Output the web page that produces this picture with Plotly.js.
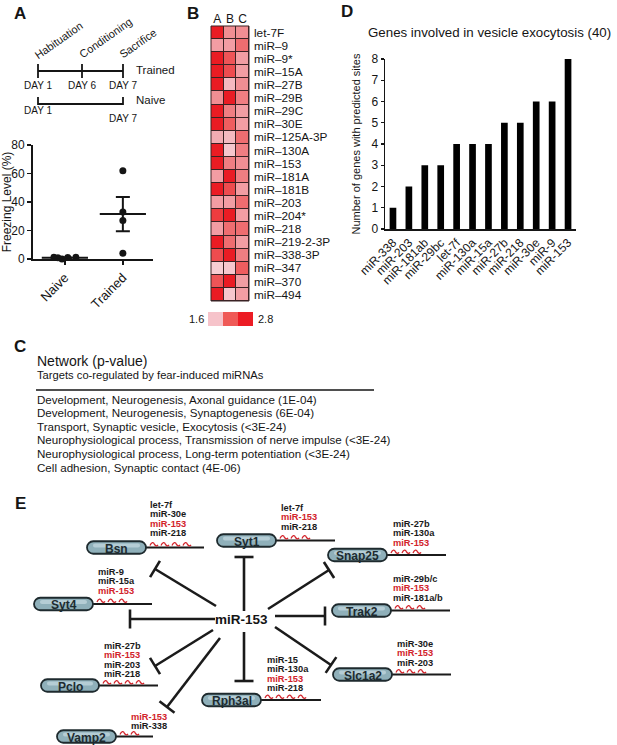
<!DOCTYPE html>
<html>
<head>
<meta charset="utf-8">
<script src="https://cdn.plot.ly/plotly-3.0.1.min.js"></script>
<style>html,body{margin:0;padding:0;background:#fff;}#chart{width:617px;height:745px;}</style>
</head>
<body>
<div id="chart"></div>
<script>
// ---------------- DATA ----------------
// Panel A: freezing level (%)
const groupNames = ['Naive', 'Trained'];
const naiveFreeze = [1.2, 0.8, 0.0, 1.0, 1.2];
const naiveJitter = [-0.19, -0.12, -0.05, 0.05, 0.19];
const trainedFreeze = [62, 33, 27, 4];
const trainedJitter = [0, 0, 0, 0];
const groupMean = [0.8, 31.5];
const groupSEM = [0.3, 12];

// Timeline
const timelineTrained = ['DAY 1', 'DAY 6', 'DAY 7'];
const timelineNaive = ['DAY 1', 'DAY 7'];
const timelinePhases = ['Habituation', 'Conditioning', 'Sacrifice'];

// Panel B: heatmap
const heatCols = ['A', 'B', 'C'];
const heatRows = ['let-7F', 'miR–9', 'miR–9*', 'miR–15A', 'miR–27B', 'miR–29B', 'miR–29C', 'miR–30E',
  'miR–125A-3P', 'miR–130A', 'miR–153', 'miR–181A', 'miR–181B', 'miR–203', 'miR–204*', 'miR–218',
  'miR–219-2-3P', 'miR–338-3P', 'miR–347', 'miR–370', 'miR–494'];
const heatA = [2.8, 2.0, 2.8, 2.8, 2.8, 2.1, 2.8, 2.8, 1.9, 2.8, 2.8, 2.0, 2.8, 2.0, 2.6, 2.0, 2.8, 2.5, 1.65, 2.45, 2.8];
const heatB = [2.1, 2.0, 2.45, 2.5, 1.8, 2.8, 2.2, 2.4, 1.8, 1.7, 2.2, 2.8, 2.5, 2.0, 2.8, 2.3, 2.3, 2.8, 1.7, 2.8, 1.7];
const heatC = [2.1, 2.3, 2.0, 2.0, 2.1, 2.2, 2.0, 2.0, 2.3, 2.2, 2.1, 2.2, 2.0, 2.3, 2.0, 2.3, 2.0, 2.2, 2.4, 2.0, 2.0];
const scaleMin = 1.6, scaleMax = 2.8;

// Panel C: network list
const netTitle = 'Network (p-value)';
const netSubtitle = 'Targets co-regulated by fear-induced miRNAs';
const netItems = [
  'Development, Neurogenesis, Axonal guidance (1E-04)',
  'Development, Neurogenesis, Synaptogenesis (6E-04)',
  'Transport, Synaptic vesicle, Exocytosis (<3E-24)',
  'Neurophysiological process, Transmission of nerve impulse (<3E-24)',
  'Neurophysiological process, Long-term potentiation (<3E-24)',
  'Cell adhesion, Synaptic contact (4E-06)'
];

// Panel D: bars
const dTitle = 'Genes involved in vesicle exocytosis (40)';
const dCats = ['miR-338', 'miR-203', 'miR-181ab', 'miR-29bc', 'let-7f', 'miR-130a', 'miR-15a', 'miR-27b', 'miR-218', 'miR-30e', 'miR-9', 'miR-153'];
const dCounts = [1, 2, 3, 3, 4, 4, 4, 5, 5, 6, 6, 8];

// Panel E: network
const hub = 'miR-153';
const geneNames = ['Bsn', 'Syt1', 'Snap25', 'Trak2', 'Slc1a2', 'Rph3al', 'Pclo', 'Syt4', 'Vamp2'];
const geneMirnas = [
  ['let-7f', 'miR-30e', 'miR-153', 'miR-218'],
  ['let-7f', 'miR-153', 'miR-218'],
  ['miR-27b', 'miR-130a', 'miR-153'],
  ['miR-29b/c', 'miR-153', 'miR-181a/b'],
  ['miR-30e', 'miR-153', 'miR-203'],
  ['miR-15', 'miR-130a', 'miR-153', 'miR-218'],
  ['miR-27b', 'miR-153', 'miR-203', 'miR-218'],
  ['miR-9', 'miR-15a', 'miR-153'],
  ['miR-153', 'miR-338']
];

// ---------------- LAYOUT GEOMETRY (pixels) ----------------
const W = 617, H = 745;
const nodeGeom = {
  Bsn:    {L: 87,  R: 146, cy: 547.5, end: 204, lx: 148, ly: 505, arrow: [216, 606, 155, 569]},
  Syt1:   {L: 217, R: 276, cy: 540.5, end: 335, lx: 279, ly: 508, arrow: [244, 611, 244, 557]},
  Snap25: {L: 328, R: 387, cy: 555,   end: 446, lx: 391, ly: 524, arrow: [268, 609, 329, 570]},
  Trak2:  {L: 332, R: 391, cy: 610.5, end: 450, lx: 391, ly: 579, arrow: [275, 616, 325, 616]},
  Slc1a2: {L: 333, R: 392, cy: 674.5, end: 451, lx: 395, ly: 644, arrow: [275, 627, 331, 665]},
  Rph3al: {L: 202, R: 261, cy: 700,   end: 321, lx: 265, ly: 660, arrow: [244, 632, 244, 681]},
  Pclo:   {L: 41,  R: 99,  cy: 685.5, end: 158, lx: 102, ly: 646, arrow: [213, 630, 155, 666]},
  Syt4:   {L: 34,  R: 93,  cy: 604,   end: 152, lx: 96,  ly: 572, arrow: [215, 619, 130, 619]},
  Vamp2:  {L: 57,  R: 116, cy: 736.5, end: 153, lx: 129, ly: 717, arrow: [220, 638, 167, 707]}
};

const FONT = 'Liberation Sans, Arial, Helvetica, sans-serif';
const INK = '#151515';
const RED = '#d2232a';
const px = (x) => x / W;
const py = (y) => 1 - y / H;

const shapes = [];
const annotations = [];
function ann(text, x, y, o) {
  annotations.push(Object.assign({
    text: text, x: x, y: y, xref: 'x4', yref: 'y4', showarrow: false,
    xanchor: 'left', yanchor: 'middle', font: {family: FONT, size: 12, color: INK}
  }, o || {}));
}
function line(x0, y0, x1, y1, w, c) {
  shapes.push({type: 'line', xref: 'x4', yref: 'y4', x0: x0, y0: y0, x1: x1, y1: y1,
    line: {color: c || INK, width: w || 2}, layer: 'above'});
}

// Panel letters
[['A', 20, 13], ['B', 193, 13], ['D', 347, 11], ['C', 20, 346], ['E', 20, 503]].forEach(p => {
  ann('<b>' + p[0] + '</b>', p[1], p[2], {xanchor: 'center', font: {family: FONT, size: 17, color: INK}});
});

// ---- Timeline (panel A) ----
const tlX = [38, 82, 123];
line(38, 71, 123, 71, 1.8);
tlX.forEach(x => line(x, 64, x, 78, 1.8));
line(38, 104, 123, 104, 1.8);
[38, 123].forEach(x => line(x, 97, x, 105, 1.8));
timelineTrained.forEach((t, i) => ann(t, tlX[i], 85, {xanchor: 'center', font: {family: FONT, size: 10, color: INK}}));
ann(timelineNaive[0], 38, 110, {xanchor: 'center', font: {family: FONT, size: 10, color: INK}});
ann(timelineNaive[1], 123, 118, {xanchor: 'center', font: {family: FONT, size: 10, color: INK}});
const phaseStart = [[30, 64], [74, 63], [115, 63]];
timelinePhases.forEach((t, i) => ann(t, phaseStart[i][0], phaseStart[i][1],
  {xanchor: 'left', yanchor: 'bottom', textangle: -35, font: {family: FONT, size: 11, color: INK}}));
ann('Trained', 134, 70, {font: {family: FONT, size: 11.5, color: INK}});
ann('Naive', 134, 100, {font: {family: FONT, size: 11.5, color: INK}});

// ---- Heatmap frame and legend (panel B) ----
shapes.push({type: 'rect', xref: 'x2 domain', yref: 'y2 domain', x0: 0, x1: 1, y0: 0, y1: 1,
  fillcolor: '#3a2224', line: {width: 0}, layer: 'below'});
shapes.push({type: 'rect', xref: 'x2 domain', yref: 'y2 domain', x0: 0, x1: 1, y0: 0, y1: 1,
  fillcolor: 'rgba(0,0,0,0)', line: {width: 1, color: '#3a2224'}, layer: 'above'});
const legendCols = ['#f6c3ca', '#ef5a57', '#ec1c24'];
legendCols.forEach((c, i) => {
  shapes.push({type: 'rect', xref: 'x4', yref: 'y4', x0: 208 + i * 15, x1: 223 + i * 15, y0: 312, y1: 326,
    fillcolor: c, line: {width: 0}, layer: 'above'});
});
ann(scaleMin.toFixed(1), 206, 319, {xanchor: 'right', font: {family: FONT, size: 11, color: INK}});
ann(scaleMax.toFixed(1), 256, 319, {font: {family: FONT, size: 11, color: INK}});

// ---- Panel C ----
ann(netTitle, 35, 361, {font: {family: FONT, size: 14, color: INK}});
ann(netSubtitle, 35, 374.5, {font: {family: FONT, size: 11.2, color: INK}});
line(36, 390, 374, 390, 1.5);
netItems.forEach((t, i) => ann(t, 35, 399 + i * 13.6, {font: {family: FONT, size: 11.6, color: INK}}));

// ---- Panel D title ----
ann(dTitle, 366, 32, {font: {family: FONT, size: 13.3, color: INK}});

// ---- Panel E: network ----
function pillPath(L, R, cy, h) {
  const r = h / 2, k = 0.5523 * r;
  return 'M' + (L + r) + ',' + (cy - r) + ' L' + (R - r) + ',' + (cy - r) +
    ' C' + (R - r + k) + ',' + (cy - r) + ' ' + R + ',' + (cy - k) + ' ' + R + ',' + cy +
    ' C' + R + ',' + (cy + k) + ' ' + (R - r + k) + ',' + (cy + r) + ' ' + (R - r) + ',' + (cy + r) +
    ' L' + (L + r) + ',' + (cy + r) +
    ' C' + (L + r - k) + ',' + (cy + r) + ' ' + L + ',' + (cy + k) + ' ' + L + ',' + cy +
    ' C' + L + ',' + (cy - k) + ' ' + (L + r - k) + ',' + (cy - r) + ' ' + (L + r) + ',' + (cy - r) + ' Z';
}
ann('<b>' + hub + '</b>', 241, 619, {xanchor: 'center', font: {family: FONT, size: 13.5, color: INK}});
geneNames.forEach((g, gi) => {
  const n = nodeGeom[g];
  const a = n.arrow;
  line(a[0], a[1], a[2], a[3], 2.6, '#1b1b1b');
  const dx = a[2] - a[0], dy = a[3] - a[1], len = Math.hypot(dx, dy);
  const nx = -dy / len * 9.5, ny = dx / len * 9.5;
  line(a[2] - nx, a[3] - ny, a[2] + nx, a[3] + ny, 2.6, '#1b1b1b');
  line(n.R, n.cy, n.end, n.cy, 2, '#1b1b1b');
  shapes.push({type: 'path', xref: 'x4', yref: 'y4', path: pillPath(n.L, n.R, n.cy, 12.5),
    fillcolor: '#8fb0ba', line: {color: '#1e2a2e', width: 1.8}, layer: 'above'});
  shapes.push({type: 'path', xref: 'x4', yref: 'y4', path: pillPath(n.L + 6, n.R - 6, n.cy - 2, 4),
    fillcolor: 'rgba(214,230,235,0.55)', line: {width: 0}, layer: 'above'});
  ann('<b>' + g + '</b>', (n.L + n.R) / 2, n.cy + 1, {xanchor: 'center', font: {family: FONT, size: 12, color: '#1d2b30'}});
  const mirs = geneMirnas[gi];
  mirs.forEach((m, mi) => {
    ann('<b>' + m + '</b>', n.lx, n.ly + mi * 9.4,
      {font: {family: FONT, size: 9.3, color: m === hub ? RED : '#1a1a1a'}});
    const x0 = n.R + 4 + mi * 11, y0 = n.cy - 2.6;
    shapes.push({type: 'path', xref: 'x4', yref: 'y4',
      path: 'M' + x0 + ',' + (y0 + 0.5) + ' C' + (x0 + 1.5) + ',' + (y0 - 3) + ' ' + (x0 + 3.5) + ',' + (y0 - 3) + ' ' + (x0 + 4.5) + ',' + (y0 - 0.5) +
        ' C' + (x0 + 5.5) + ',' + (y0 + 1.5) + ' ' + (x0 + 7) + ',' + (y0 + 1.5) + ' ' + (x0 + 8) + ',' + y0,
      line: {color: RED, width: 1.3}, layer: 'above'});
  });
});

// ---------------- TRACES ----------------
const traces = [];
traces.push({type: 'scatter', mode: 'markers', xaxis: 'x', yaxis: 'y', cliponaxis: false,
  x: naiveJitter.map(j => 0 + j), y: naiveFreeze, marker: {color: INK, size: 7}, hoverinfo: 'skip'});
traces.push({type: 'scatter', mode: 'markers', xaxis: 'x', yaxis: 'y', cliponaxis: false,
  x: trainedJitter.map(j => 1 + j), y: trainedFreeze, marker: {color: INK, size: 7}, hoverinfo: 'skip'});
traces.push({type: 'scatter', mode: 'markers', xaxis: 'x', yaxis: 'y', cliponaxis: false,
  x: [0, 1], y: groupMean,
  marker: {symbol: 'line-ew', size: 33, color: INK, line: {color: INK, width: 2}},
  error_y: {type: 'data', array: groupSEM, visible: true, color: INK, thickness: 2, width: 7},
  hoverinfo: 'skip'});
traces.push({type: 'heatmap', xaxis: 'x2', yaxis: 'y2', x: heatCols, y: heatRows,
  z: heatRows.map((r, i) => [heatA[i], heatB[i], heatC[i]]),
  zmin: scaleMin, zmax: scaleMax, showscale: false, xgap: 1, ygap: 1,
  colorscale: [[0, '#f8d3d9'], [0.2, '#f4b4bb'], [0.35, '#f29aa0'], [0.5, '#f07e82'],
    [0.65, '#ef6062'], [0.8, '#ed4245'], [1, '#ea1c24']],
  hoverinfo: 'skip'});
traces.push({type: 'bar', xaxis: 'x3', yaxis: 'y3', x: dCats, y: dCounts, width: 0.42,
  marker: {color: '#000', line: {width: 0}}, hoverinfo: 'skip'});
traces.push({type: 'scatter', mode: 'markers', xaxis: 'x4', yaxis: 'y4', x: [-50], y: [-50],
  marker: {size: 1, opacity: 0}, hoverinfo: 'skip'});

const axBase = {showgrid: false, zeroline: false, fixedrange: true};
const layout = {
  width: W, height: H, margin: {l: 0, r: 0, t: 0, b: 0, pad: 0},
  paper_bgcolor: '#ffffff', plot_bgcolor: 'rgba(0,0,0,0)', showlegend: false,
  font: {family: FONT, size: 12, color: INK},
  xaxis: Object.assign({}, axBase, {domain: [px(33), px(153)], anchor: 'y', range: [-0.55, 1.52],
    tickmode: 'array', tickvals: [0, 1], ticktext: groupNames, tickangle: -45,
    ticks: 'outside', ticklen: 4, tickwidth: 1.5, tickcolor: INK,
    showline: true, linewidth: 2, linecolor: INK, tickfont: {size: 13, color: INK}}),
  yaxis: Object.assign({}, axBase, {domain: [py(259), py(145)], anchor: 'x', range: [0, 80],
    tickmode: 'array', tickvals: [0, 20, 40, 60, 80], ticks: 'outside', ticklen: 4, tickwidth: 1.5, tickcolor: INK,
    showline: true, linewidth: 2, linecolor: INK, tickfont: {size: 12, color: INK},
    title: {text: 'Freezing Level (%)', font: {size: 12, color: INK}, standoff: 3}}),
  xaxis2: Object.assign({}, axBase, {domain: [px(211), px(249)], anchor: 'y2', side: 'top',
    tickmode: 'array', tickvals: heatCols, ticktext: heatCols,
    ticks: '', showline: false, tickfont: {size: 12, color: INK}}),
  yaxis2: Object.assign({}, axBase, {domain: [py(301), py(26)], anchor: 'x2', side: 'right',
    tickmode: 'array', tickvals: heatRows, ticktext: heatRows,
    autorange: 'reversed', ticks: '', showline: false, ticklabelstandoff: 4,
    tickfont: {size: 11.8, color: INK}}),
  xaxis3: Object.assign({}, axBase, {domain: [px(385), px(576)], anchor: 'y3',
    tickmode: 'array', tickvals: dCats, ticktext: dCats,
    tickangle: -45, ticks: '', showline: true, linewidth: 2, linecolor: INK,
    tickfont: {size: 12, color: INK}}),
  yaxis3: Object.assign({}, axBase, {domain: [py(229), py(59)], anchor: 'x3', range: [0, 8], dtick: 1,
    ticks: 'outside', ticklen: 3, tickwidth: 1.2, tickcolor: INK,
    showline: true, linewidth: 1.5, linecolor: INK, tickfont: {size: 12, color: INK},
    title: {text: 'Number of genes with predicted sites', font: {size: 11, color: INK}, standoff: 8}}),
  xaxis4: {domain: [0, 1], range: [0, W], visible: false, fixedrange: true, anchor: 'y4'},
  yaxis4: {domain: [0, 1], range: [H, 0], visible: false, fixedrange: true, anchor: 'x4'},
  shapes: shapes,
  annotations: annotations
};

Plotly.newPlot('chart', traces, layout, {staticPlot: true, displayModeBar: false});
</script>
</body>
</html>
